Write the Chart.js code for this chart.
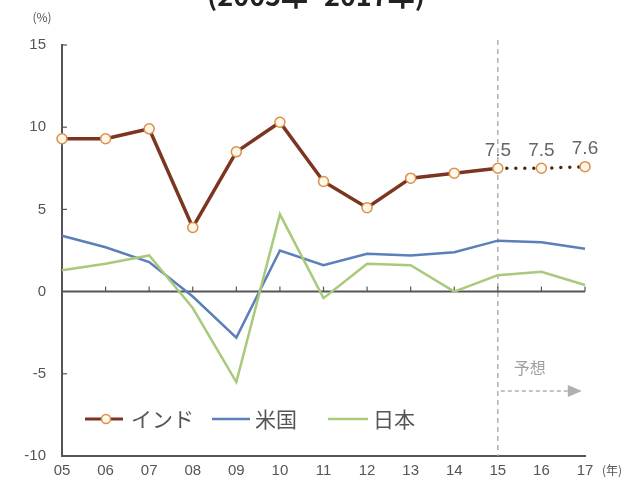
<!DOCTYPE html>
<html>
<head>
<meta charset="utf-8">
<script src="https://cdn.jsdelivr.net/npm/chart.js@4.4.1/dist/chart.umd.min.js"></script>
<style>
  body{margin:0;background:#fff;}
  #wrap{position:relative;width:632px;height:485px;overflow:hidden;}
  #title{position:absolute;left:0;width:632px;top:-25px;text-align:center;line-height:40px;
    font:bold 27px "Noto Sans CJK JP","DejaVu Sans",sans-serif;color:#222;}
</style>
</head>
<body>
<div id="wrap">
  <div id="title">(2005年~2017年)</div>
  <canvas id="chart" width="632" height="485"></canvas>
</div>
<script>
const years = ['05','06','07','08','09','10','11','12','13','14','15','16','17'];
const india = [9.3, 9.3, 9.9, 3.9, 8.5, 10.3, 6.7, 5.1, 6.9, 7.2, 7.5, 7.5, 7.6];
const usa   = [3.4, 2.7, 1.8, -0.3, -2.8, 2.5, 1.6, 2.3, 2.2, 2.4, 3.1, 3.0, 2.6];
const japan = [1.3, 1.7, 2.2, -1.0, -5.5, 4.7, -0.4, 1.7, 1.6, 0.0, 1.0, 1.2, 0.4];
const forecastStart = 10; // index of '15'
const yTicks = [-10, -5, 0, 5, 10, 15];

const JP = '"Noto Sans CJK JP", "DejaVu Sans", sans-serif';
const AXIS = '#555';

const decor = {
  id: 'decor',
  beforeDatasetsDraw(c){
    const g = c.ctx, x = c.scales.x, y = c.scales.y, a = c.chartArea;
    g.save();
    // forecast dashed line
    const fx = x.getPixelForValue(forecastStart);
    g.strokeStyle = '#b0b0b0'; g.lineWidth = 1.5; g.setLineDash([5,4]);
    g.beginPath(); g.moveTo(fx, a.top - 5); g.lineTo(fx, a.bottom); g.stroke();
    g.setLineDash([]);
    // zero line with small ticks
    const zy = y.getPixelForValue(0);
    g.strokeStyle = AXIS; g.lineWidth = 2;
    g.beginPath(); g.moveTo(a.left, zy); g.lineTo(x.getPixelForValue(years.length-1), zy); g.stroke();
    g.lineWidth = 1.2;
    years.forEach((_, i) => {
      if(i === 0) return;
      const px = x.getPixelForValue(i);
      g.beginPath(); g.moveTo(px, zy); g.lineTo(px, zy - 5); g.stroke();
    });
    // y axis inner ticks
    yTicks.forEach(v => {
      if(v === -10 || v === 0) return;
      const py = y.getPixelForValue(v);
      g.beginPath(); g.moveTo(a.left, py); g.lineTo(a.left + 5, py); g.stroke();
    });
    g.restore();
  },
  afterDraw(c){
    const g = c.ctx, x = c.scales.x, y = c.scales.y;
    g.save();
    // value labels on forecast points
    g.fillStyle = '#666'; g.font = '19px "Liberation Sans", sans-serif';
    g.textAlign = 'center'; g.textBaseline = 'middle';
    for(let i = forecastStart; i < years.length; i++){
      g.fillText(india[i].toFixed(1), x.getPixelForValue(i), y.getPixelForValue(india[i]) - 18);
    }
    // units
    g.font = '12px ' + JP; g.fillStyle = '#555';
    g.fillText('(%)', 42, 17);
    g.fillText('(年)', 612, 470);
    // forecast label and arrow
    const fx = x.getPixelForValue(forecastStart);
    g.font = '16px ' + JP; g.fillStyle = '#a0a0a0'; g.textAlign = 'left';
    g.fillText('予想', fx + 16, 368);
    g.strokeStyle = '#b0b0b0'; g.lineWidth = 1.5; g.setLineDash([4,3]);
    g.beginPath(); g.moveTo(fx + 3, 391); g.lineTo(fx + 72, 391); g.stroke();
    g.setLineDash([]);
    g.fillStyle = '#b0b0b0';
    g.beginPath(); g.moveTo(fx + 70, 385); g.lineTo(fx + 84, 391); g.lineTo(fx + 70, 397); g.closePath(); g.fill();
    // legend
    const ly = 419;
    g.lineWidth = 3; g.strokeStyle = '#7b3520';
    g.beginPath(); g.moveTo(85, ly); g.lineTo(123, ly); g.stroke();
    g.beginPath(); g.arc(106, ly, 4.5, 0, Math.PI*2);
    g.fillStyle = '#fff8e8'; g.fill(); g.lineWidth = 1.5; g.strokeStyle = '#d9904e'; g.stroke();
    g.lineWidth = 2.5; g.strokeStyle = '#5b7fb8';
    g.beginPath(); g.moveTo(212, ly); g.lineTo(250, ly); g.stroke();
    g.strokeStyle = '#a9c97c';
    g.beginPath(); g.moveTo(328, ly); g.lineTo(368, ly); g.stroke();
    g.font = '21px ' + JP; g.fillStyle = '#555'; g.textBaseline = 'middle'; g.textAlign = 'left';
    g.fillText('インド', 131, ly);
    g.fillText('米国', 255, ly);
    g.fillText('日本', 373, ly);
    g.restore();
  }
};

new Chart(document.getElementById('chart'), {
  type: 'line',
  data: {
    labels: years,
    datasets: [{
      label: '日本',
      data: japan,
      borderColor: '#a9c97c',
      borderWidth: 2.5,
      pointRadius: 0,
      tension: 0
    }, {
      label: '米国',
      data: usa,
      borderColor: '#5b7fb8',
      borderWidth: 2.5,
      pointRadius: 0,
      tension: 0
    }, {
      label: 'インド',
      data: india,
      borderColor: '#7b3520',
      borderWidth: 3.5,
      tension: 0,
      pointRadius: 5,
      pointBackgroundColor: '#fff8e8',
      pointBorderColor: '#d9904e',
      pointBorderWidth: 1.5,
      segment: {
        borderDash: ctx => ctx.p0DataIndex >= forecastStart ? [0, 9] : undefined,
        borderColor: ctx => ctx.p0DataIndex >= forecastStart ? '#4a2618' : undefined
      },
      borderCapStyle: 'round'
    }]
  },
  options: {
    responsive: false,
    animation: false,
    layout: { padding: { left: 10, right: 47, top: 45, bottom: 0 } },
    plugins: { legend: { display: false }, tooltip: { enabled: false } },
    scales: {
      x: {
        offset: false,
        grid: { display: false, drawTicks: false },
        border: { color: AXIS, width: 2 },
        ticks: { color: '#555', font: { size: 15, family: '"Liberation Sans Narrow", "Liberation Sans", sans-serif' }, padding: 6, maxRotation: 0, autoSkip: false },
        afterFit: s => { s.height = 29; }
      },
      y: {
        min: -10, max: 15,
        afterBuildTicks: s => { s.ticks = yTicks.map(v => ({ value: v })); },
        grid: { display: false, drawTicks: false },
        border: { color: AXIS, width: 2 },
        ticks: { color: '#555', font: { size: 15, family: '"Liberation Sans Narrow", "Liberation Sans", sans-serif' }, padding: 16 },
        afterFit: s => { s.width = 52; }
      }
    }
  },
  plugins: [decor]
});
</script>
</body>
</html>
